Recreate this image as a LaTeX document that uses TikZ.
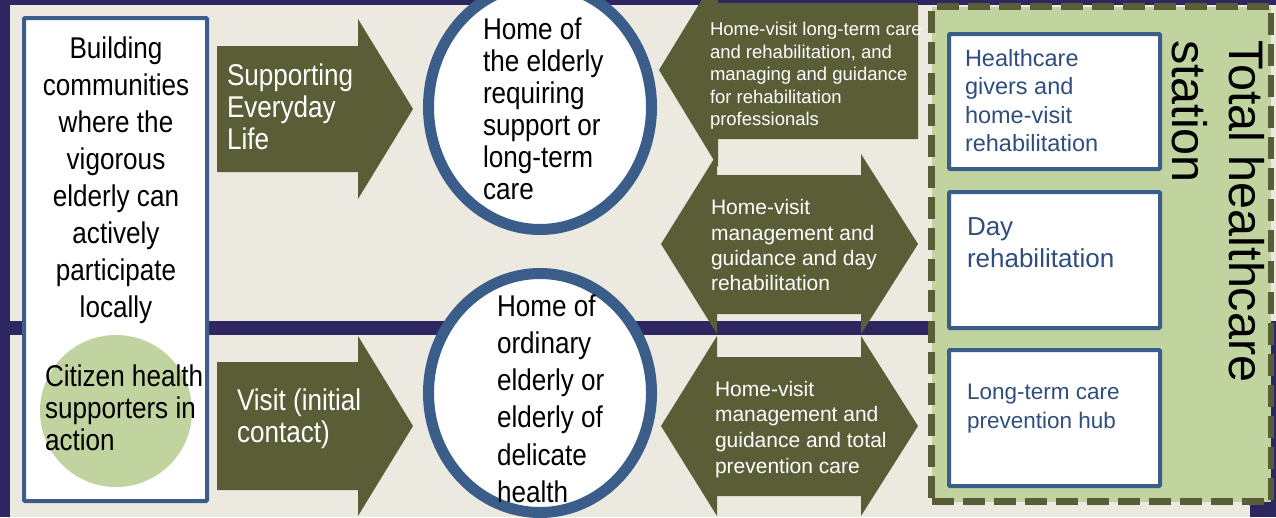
\documentclass[tikz,border=0pt]{standalone}
\usepackage{fontspec}
\setmainfont{Liberation Sans}
\newfontfamily\narrowfont{Liberation Sans}[FakeStretch=0.87]
\usepackage{xcolor}
\usetikzlibrary{shapes.geometric}
\definecolor{frame}{HTML}{2E2660}
\definecolor{paper}{HTML}{ECEAE0}
\definecolor{olive}{HTML}{595E37}
\definecolor{ringblue}{HTML}{3B5D8A}
\definecolor{sage}{HTML}{C1D39F}
\definecolor{boxtext}{HTML}{2F4E7E}
\tikzset{Station/.style = {% one unit = one pixel of the slide
       x=1pt, y=-1pt,
  every node/.style = {inner sep=0pt, outer sep=0pt},
      plate/.style = {rectangle, draw=ringblue, line width=4pt, fill=white,
                      rounded corners=1pt, anchor=north west},
       home/.style = {ellipse, draw=ringblue, line width=11pt, fill=white,
                      minimum width=223pt},
      arrow/.style = {fill=olive},
       dark/.style = {text=black, align=left, anchor=north west},
      light/.style = {text=white, align=left, anchor=north west},
    bluetxt/.style = {text=boxtext, align=left, anchor=north west}}
        }

\begin{document}
\begin{tikzpicture}[Station]
\useasboundingbox (0,0) rectangle (1276,517);

% background
\fill[frame] (0,0) rectangle (1276,517);
\fill[paper] (10,5) rectangle (1276,321);
\fill[paper] (10,335) rectangle (1250,517);

% left column
\node (goal)   [plate, minimum width=183, minimum height=483] at (24,18) {};
\node (helper) [circle, fill=sage, minimum size=152] at (116,411) {};
\node (goaltxt) [text=black, align=center, anchor=north,
                 font={\narrowfont\fontsize{30}{37}\selectfont}] at (116,36.5)
      {Building\\communities\\where the\\vigorous\\elderly can\\actively\\participate\\locally};
\node (helpertxt) [dark, font={\narrowfont\fontsize{30}{31.8}\selectfont}] at (45,365)
      {Citizen health\\supporters in\\action};

% arrows towards the homes
\fill[arrow] (217,46) -- (358,46) -- (358,19) -- (413,109) -- (358,199) -- (358,172) -- (217,172) -- cycle;
\fill[arrow] (217,362) -- (358,362) -- (358,336) -- (413,426) -- (358,516) -- (358,490) -- (217,490) -- cycle;
\node (support) [light, font={\narrowfont\fontsize{30}{32}\selectfont}] at (227,63.5)
      {Supporting\\Everyday\\Life};
\node (visit)   [light, font={\narrowfont\fontsize{30}{32}\selectfont}] at (237,389)
      {Visit (initial\\contact)};

% homes
\node (home01) [home, minimum height=245] at (540,107) {};
\node (home02) [home, minimum height=239] at (540,393) {};
\node (home01txt) [dark, font={\narrowfont\fontsize{30}{32}\selectfont}] at (483,18)
      {Home of\\the elderly\\requiring\\support or\\long-term\\care};
\node (home02txt) [dark, font={\narrowfont\fontsize{30}{37.2}\selectfont}] at (497,294.5)
      {Home of\\ordinary\\elderly or\\elderly of\\delicate\\health};

% services between homes and station
\fill[arrow] (918,3) -- (918,139) -- (718,139) -- (718,167) -- (659,70) -- (718,-27) -- (718,3) -- cycle;
\fill[arrow] (661,244) -- (717,154) -- (717,175) -- (861,175) -- (861,154) -- (918,244)
          -- (861,334) -- (861,314) -- (717,314) -- (717,334) -- cycle;
\fill[arrow] (661,426) -- (717,336) -- (717,357) -- (861,357) -- (861,336) -- (918,426)
          -- (861,516) -- (861,496) -- (717,496) -- (717,516) -- cycle;
\node (serv01) [light, font={\fontsize{18.5}{22.5}\selectfont}] at (710,22.5)
      {Home-visit long-term care\\and rehabilitation, and\\managing and guidance\\for rehabilitation\\professionals};
\node (serv02) [light, font={\fontsize{21}{25.3}\selectfont}] at (711,199.5)
      {Home-visit\\management and\\guidance and day\\rehabilitation};
\node (serv03) [light, font={\fontsize{21}{25.7}\selectfont}] at (715,381)
      {Home-visit\\management and\\guidance and total\\prevention care};

% station
\node (station) [rectangle, draw=olive, fill=sage, line width=6.5pt, dash pattern=on 22pt off 9pt,
                 anchor=north west, minimum width=339.5, minimum height=495] at (931.5,6.5) {};
\node (unit01) [plate, minimum width=211, minimum height=135] at (949,34) {};
\node (unit02) [plate, minimum width=211, minimum height=136] at (949,192) {};
\node (unit03) [plate, minimum width=211, minimum height=136] at (949,350) {};
\node (unit01txt) [bluetxt, font={\fontsize{23.5}{28.3}\selectfont}] at (965,49.5)
      {Healthcare\\givers and\\home-visit\\rehabilitation};
\node (unit02txt) [bluetxt, font={\fontsize{26}{32.5}\selectfont}] at (967,217.5)
      {Day\\rehabilitation};
\node (unit03txt) [bluetxt, font={\fontsize{22.5}{29}\selectfont}] at (967,384)
      {Long-term care\\prevention hub};
\node (stationtxt) [dark, rotate=-90, font={\fontsize{48.5}{57}\selectfont}] at (1265,40)
      {Total healthcare\\station};

\end{tikzpicture}
\end{document}
